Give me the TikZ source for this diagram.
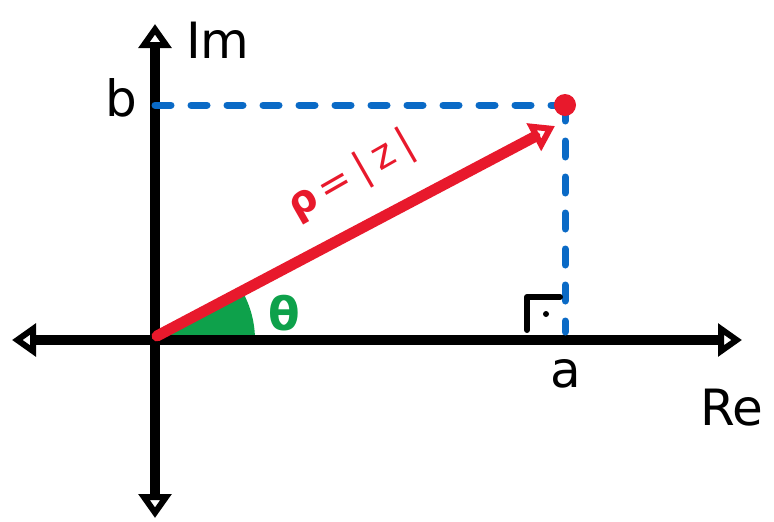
\documentclass[tikz,border=0pt]{standalone}
\usepackage{fontspec}
\setmainfont{DejaVu Sans}
\usetikzlibrary{arrows.meta}
\definecolor{vred}{HTML}{E8192C}
\definecolor{vblue}{HTML}{0A6AC6}
\definecolor{vgreen}{HTML}{0EA14B}
\tikzset{
  axis/.style={line width=10pt, -{Triangle[open,length=24pt,width=32pt,line width=7pt]}},
  guide/.style={vblue, line width=7pt, line cap=round, dash pattern=on 16pt off 20pt},
  lbl/.style={inner sep=0pt, font=\fontsize{50}{50}\selectfont},
}
\begin{document}
\begin{tikzpicture}[x=1pt,y=1pt]
\useasboundingbox (0,0) rectangle (774,-522);
\coordinate (O) at (155,-340);
\coordinate (P) at (565,-105);
\coordinate (A) at (565,-340);
\coordinate (B) at (155,-105);
\coordinate (Xr) at (742,-340);
\coordinate (Xl) at (12,-340);
\coordinate (Yt) at (155,-24);
\coordinate (Yb) at (155,-518);
% green angle sector
\fill[vgreen] (O) -- ++(0:100) arc[start angle=0,end angle=29.8,radius=100] -- cycle;
% axes
\draw[axis] (O) -- (Xr);
\draw[axis] (O) -- (Xl);
\draw[axis] (O) -- (Yt);
\draw[axis] (O) -- (Yb);
% dashed guides
\draw[guide] (B) -- (P);
\draw[guide] (P) -- ([yshift=8pt]A);
% right angle mark
\coordinate (R1) at (527,-330);
\coordinate (R2) at (527,-297);
\coordinate (R3) at (560,-297);
\draw[line width=6pt, line cap=round, line join=round] (R1) -- (R2) -- (R3);
\fill (546,-314) circle (3pt);
% vector
\coordinate (Ps) at (555,-126);
\draw[vred, line width=11pt, line cap=round, -{Triangle[open,length=24pt,width=30pt,line width=7pt]}] ([shift={(2,4)}]O) -- (Ps);
\fill[vred] (P) circle (11pt);
% labels
\node[lbl, anchor=west] (Im) at (186,-40) {Im};
\node[lbl, anchor=center] (b) at (121,-98) {b};
\node[lbl, anchor=center] (a) at (566,-374) {a};
\node[lbl, anchor=center] (Re) at (732,-408) {Re};
\node[vgreen, inner sep=0pt, font=\bfseries\fontsize{46}{46}\selectfont] (th) at (284,-313) {θ};
\node[vred, inner sep=0pt, rotate=29.8, font=\fontsize{40}{40}\selectfont] (rho) at (352,-176) {\textbf{ρ}\hspace{5pt}=\hspace{8pt}|\hspace{8pt}z\hspace{8pt}|};
\end{tikzpicture}
\end{document}
